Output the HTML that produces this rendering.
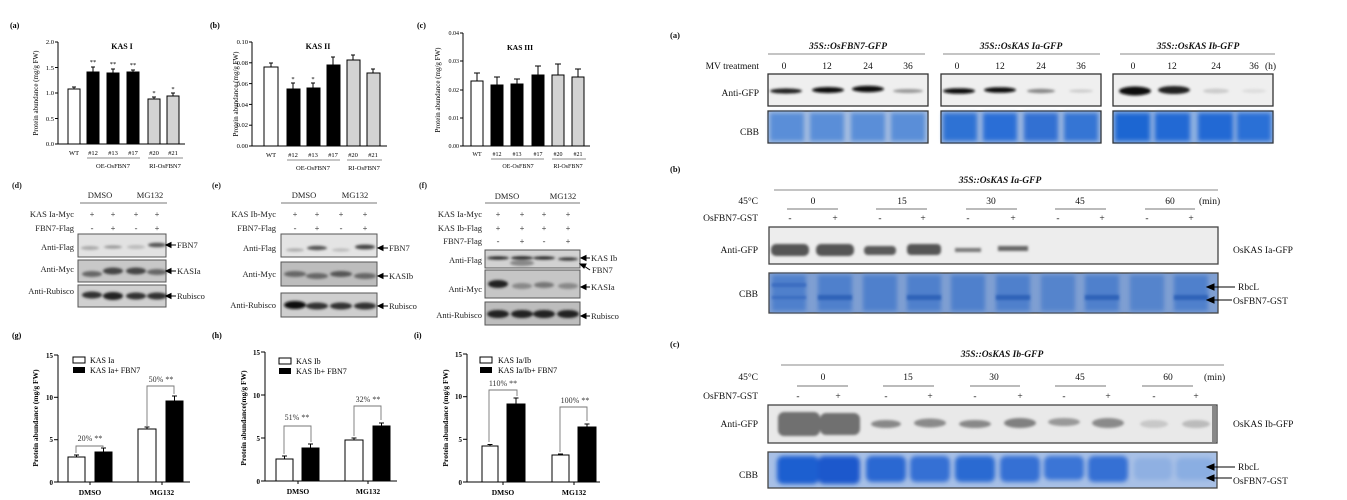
<!DOCTYPE html>
<html><head><meta charset="utf-8"><style>
html,body{margin:0;padding:0;background:#fff;width:1347px;height:500px;overflow:hidden}
svg{display:block;font-family:"Liberation Serif",serif}
</style></head><body>
<svg width="1347" height="500" viewBox="0 0 1347 500" xmlns="http://www.w3.org/2000/svg">
<defs>
<filter id="b" x="-30%" y="-100%" width="160%" height="300%"><feGaussianBlur stdDeviation="1.3"/></filter>
<filter id="b2" x="-20%" y="-20%" width="140%" height="140%"><feGaussianBlur stdDeviation="2"/></filter>
</defs>

<!-- ========== (a) KAS I ========== -->
<g font-size="6.5" fill="#000">
<text x="10" y="28" font-size="8" font-weight="bold">(a)</text>
<text x="122" y="49" font-size="8" font-weight="bold" text-anchor="middle">KAS I</text>
<text transform="translate(38,93) rotate(-90)" text-anchor="middle" font-size="7">Protein abundance (mg/g FW)</text>
<g stroke="#000" stroke-width="1"><line x1="58" y1="42" x2="58" y2="144"/><line x1="58" y1="144" x2="185" y2="144"/>
<line x1="55" y1="42" x2="58" y2="42"/><line x1="55" y1="67.5" x2="58" y2="67.5"/><line x1="55" y1="93" x2="58" y2="93"/><line x1="55" y1="118.5" x2="58" y2="118.5"/><line x1="55" y1="144" x2="58" y2="144"/></g>
<g text-anchor="end"><text x="54" y="44">2.0</text><text x="54" y="70">1.5</text><text x="54" y="95">1.0</text><text x="54" y="121">0.5</text><text x="54" y="146">0.0</text></g>
<g stroke="#000" stroke-width="1">
<rect x="68" y="89" width="12" height="55" fill="#fff"/><line x1="74" y1="89" x2="74" y2="87"/><line x1="72" y1="87" x2="76" y2="87"/>
<rect x="87" y="72" width="12" height="72" fill="#000"/><line x1="93" y1="72" x2="93" y2="67"/><line x1="91" y1="67" x2="95" y2="67"/>
<rect x="107" y="73" width="12" height="71" fill="#000"/><line x1="113" y1="73" x2="113" y2="69"/><line x1="111" y1="69" x2="115" y2="69"/>
<rect x="127" y="72" width="12" height="72" fill="#000"/><line x1="133" y1="72" x2="133" y2="70"/><line x1="131" y1="70" x2="135" y2="70"/>
<rect x="148" y="99" width="12" height="45" fill="#d3d3d3"/><line x1="154" y1="99" x2="154" y2="97"/><line x1="152" y1="97" x2="156" y2="97"/>
<rect x="167" y="96" width="12" height="48" fill="#d3d3d3"/><line x1="173" y1="96" x2="173" y2="93"/><line x1="171" y1="93" x2="175" y2="93"/>
</g>
<g text-anchor="middle"><text x="93" y="64">**</text><text x="113" y="66">**</text><text x="133" y="67">**</text><text x="154" y="95">*</text><text x="173" y="91">*</text>
<text x="74" y="155">WT</text><text x="93" y="155">#12</text><text x="113" y="155">#13</text><text x="133" y="155">#17</text><text x="154" y="155">#20</text><text x="173" y="155">#21</text>
<text x="113" y="168">OE-OsFBN7</text><text x="165" y="168">RI-OsFBN7</text></g>
<g stroke="#666" stroke-width="0.8"><line x1="87" y1="158" x2="140" y2="158"/><line x1="148" y1="158" x2="183" y2="158"/></g>
</g>

<!-- ========== (b) KAS II ========== -->
<g font-size="6.5" fill="#000">
<text x="210" y="28" font-size="8" font-weight="bold">(b)</text>
<text x="318" y="49" font-size="8" font-weight="bold" text-anchor="middle">KAS II</text>
<text transform="translate(238,94) rotate(-90)" text-anchor="middle" font-size="7">Protein abundance (mg/g FW)</text>
<g stroke="#000" stroke-width="1"><line x1="252" y1="42" x2="252" y2="146"/><line x1="252" y1="146" x2="387" y2="146"/>
<line x1="249" y1="42" x2="252" y2="42"/><line x1="249" y1="62.8" x2="252" y2="62.8"/><line x1="249" y1="83.6" x2="252" y2="83.6"/><line x1="249" y1="104.4" x2="252" y2="104.4"/><line x1="249" y1="125.2" x2="252" y2="125.2"/><line x1="249" y1="146" x2="252" y2="146"/></g>
<g text-anchor="end"><text x="248" y="44">0.10</text><text x="248" y="65">0.08</text><text x="248" y="86">0.06</text><text x="248" y="107">0.04</text><text x="248" y="127">0.02</text><text x="248" y="148">0.00</text></g>
<g stroke="#000" stroke-width="1">
<rect x="264" y="67" width="14" height="79" fill="#fff"/><line x1="271" y1="67" x2="271" y2="63"/><line x1="269" y1="63" x2="273" y2="63"/>
<rect x="287" y="89" width="13" height="57" fill="#000"/><line x1="293" y1="89" x2="293" y2="83"/><line x1="291" y1="83" x2="295" y2="83"/>
<rect x="307" y="88" width="13" height="58" fill="#000"/><line x1="313" y1="88" x2="313" y2="83"/><line x1="311" y1="83" x2="315" y2="83"/>
<rect x="327" y="65" width="13" height="81" fill="#000"/><line x1="333" y1="65" x2="333" y2="57"/><line x1="331" y1="57" x2="335" y2="57"/>
<rect x="347" y="60" width="13" height="86" fill="#d3d3d3"/><line x1="353" y1="60" x2="353" y2="55"/><line x1="351" y1="55" x2="355" y2="55"/>
<rect x="367" y="73" width="13" height="73" fill="#d3d3d3"/><line x1="373" y1="73" x2="373" y2="69"/><line x1="371" y1="69" x2="375" y2="69"/>
</g>
<g text-anchor="middle"><text x="293" y="81">*</text><text x="313" y="81">*</text>
<text x="271" y="157">WT</text><text x="293" y="157">#12</text><text x="313" y="157">#13</text><text x="333" y="157">#17</text><text x="353" y="157">#20</text><text x="373" y="157">#21</text>
<text x="313" y="170">OE-OsFBN7</text><text x="364" y="170">RI-OsFBN7</text></g>
<g stroke="#666" stroke-width="0.8"><line x1="287" y1="160" x2="340" y2="160"/><line x1="347" y1="160" x2="382" y2="160"/></g>
</g>

<!-- ========== (c) KAS III ========== -->
<g font-size="6" fill="#000">
<text x="417" y="28" font-size="8" font-weight="bold">(c)</text>
<text x="520" y="50" font-size="7.5" font-weight="bold" text-anchor="middle">KAS III</text>
<text transform="translate(440,90) rotate(-90)" text-anchor="middle" font-size="7">Protein abundance (mg/g FW)</text>
<g stroke="#000" stroke-width="1"><line x1="463" y1="33" x2="463" y2="146"/><line x1="463" y1="146" x2="590" y2="146"/>
<line x1="460" y1="33" x2="463" y2="33"/><line x1="460" y1="61" x2="463" y2="61"/><line x1="460" y1="90" x2="463" y2="90"/><line x1="460" y1="118" x2="463" y2="118"/><line x1="460" y1="146" x2="463" y2="146"/></g>
<g text-anchor="end"><text x="459" y="35">0.04</text><text x="459" y="63">0.03</text><text x="459" y="92">0.02</text><text x="459" y="120">0.01</text><text x="459" y="148">0.00</text></g>
<g stroke="#000" stroke-width="1">
<rect x="471" y="81" width="12" height="65" fill="#fff"/><line x1="477" y1="81" x2="477" y2="73"/><line x1="474" y1="73" x2="480" y2="73"/>
<rect x="491" y="85" width="12" height="61" fill="#000"/><line x1="497" y1="85" x2="497" y2="77"/><line x1="494" y1="77" x2="500" y2="77"/>
<rect x="511" y="84" width="12" height="62" fill="#000"/><line x1="517" y1="84" x2="517" y2="79"/><line x1="514" y1="79" x2="520" y2="79"/>
<rect x="532" y="75" width="12" height="71" fill="#000"/><line x1="538" y1="75" x2="538" y2="66"/><line x1="535" y1="66" x2="541" y2="66"/>
<rect x="552" y="75" width="12" height="71" fill="#d3d3d3"/><line x1="558" y1="75" x2="558" y2="64"/><line x1="555" y1="64" x2="561" y2="64"/>
<rect x="572" y="77" width="12" height="69" fill="#d3d3d3"/><line x1="578" y1="77" x2="578" y2="69"/><line x1="575" y1="69" x2="581" y2="69"/>
</g>
<g text-anchor="middle"><text x="477" y="156">WT</text><text x="497" y="156">#12</text><text x="517" y="156">#13</text><text x="538" y="156">#17</text><text x="558" y="156">#20</text><text x="578" y="156">#21</text>
<text x="518" y="168">OE-OsFBN7</text><text x="568" y="168">RI-OsFBN7</text></g>
<g stroke="#666" stroke-width="0.8"><line x1="491" y1="159" x2="544" y2="159"/><line x1="552" y1="159" x2="586" y2="159"/></g>
</g>

<!-- ========== (d) ========== -->
<g font-size="8.5" fill="#222">
<text x="12" y="188" font-size="8" font-weight="bold">(d)</text>
<text x="100" y="198" text-anchor="middle">DMSO</text><text x="150" y="198" text-anchor="middle">MG132</text>
<line x1="80" y1="203" x2="167" y2="203" stroke="#777"/>
<g text-anchor="end"><text x="74" y="217">KAS Ia-Myc</text><text x="74" y="231">FBN7-Flag</text><text x="74" y="250">Anti-Flag</text><text x="74" y="272">Anti-Myc</text><text x="74" y="294">Anti-Rubisco</text></g>
<g text-anchor="middle"><text x="92" y="217">+</text><text x="113" y="217">+</text><text x="136" y="217">+</text><text x="157" y="217">+</text>
<text x="92" y="231">-</text><text x="113" y="231">+</text><text x="136" y="231">-</text><text x="157" y="231">+</text></g>
<rect x="78" y="234" width="88" height="23" fill="#e2e2e2" stroke="#555"/>
<rect x="78" y="260" width="88" height="22" fill="#c8c8c8" stroke="#555"/>
<rect x="78" y="285" width="88" height="22" fill="#d0d0d0" stroke="#555"/>
<g filter="url(#b)"><ellipse cx="90" cy="248" rx="9" ry="2" fill="#aaa"/><ellipse cx="113" cy="247" rx="9" ry="1.6" fill="#999"/><ellipse cx="136" cy="247" rx="9" ry="2" fill="#bbb"/><ellipse cx="157" cy="245" rx="9" ry="2.3" fill="#555"/>
<ellipse cx="92" cy="274" rx="10" ry="3" fill="#666"/><ellipse cx="113" cy="271" rx="10" ry="3.5" fill="#444"/><ellipse cx="136" cy="271" rx="10" ry="3.5" fill="#444"/><ellipse cx="157" cy="272" rx="10" ry="3" fill="#666"/>
<ellipse cx="92" cy="295" rx="10" ry="3.5" fill="#333"/><ellipse cx="113" cy="296" rx="10" ry="4" fill="#222"/><ellipse cx="136" cy="296" rx="10" ry="3.5" fill="#333"/><ellipse cx="157" cy="296" rx="10" ry="3.5" fill="#333"/></g>
<g stroke="#000" fill="#000"><line x1="168" y1="245" x2="176" y2="245"/><polygon points="166,245 171,242.5 171,247.5"/>
<line x1="168" y1="271" x2="176" y2="271"/><polygon points="166,271 171,268.5 171,273.5"/>
<line x1="168" y1="296" x2="176" y2="296"/><polygon points="166,296 171,293.5 171,298.5"/></g>
<text x="177" y="248">FBN7</text><text x="177" y="274">KASIa</text><text x="177" y="299">Rubisco</text>
</g>

<!-- ========== (e) ========== -->
<g font-size="8.5" fill="#222">
<text x="212" y="188" font-size="8" font-weight="bold">(e)</text>
<text x="304" y="198" text-anchor="middle">DMSO</text><text x="355" y="198" text-anchor="middle">MG132</text>
<line x1="281" y1="203" x2="377" y2="203" stroke="#777"/>
<g text-anchor="end"><text x="276" y="217">KAS Ib-Myc</text><text x="276" y="231">FBN7-Flag</text><text x="276" y="251">Anti-Flag</text><text x="276" y="277">Anti-Myc</text><text x="276" y="308">Anti-Rubisco</text></g>
<g text-anchor="middle"><text x="295" y="217">+</text><text x="317" y="217">+</text><text x="341" y="217">+</text><text x="365" y="217">+</text>
<text x="295" y="231">-</text><text x="317" y="231">+</text><text x="341" y="231">-</text><text x="365" y="231">+</text></g>
<rect x="281" y="234" width="96" height="23" fill="#e4e4e4" stroke="#555"/>
<rect x="281" y="262" width="96" height="24" fill="#bdbdbd" stroke="#555"/>
<rect x="281" y="293" width="96" height="24" fill="#cfcfcf" stroke="#555"/>
<g filter="url(#b)"><ellipse cx="295" cy="250" rx="9" ry="1.6" fill="#aaa"/><ellipse cx="317" cy="248" rx="10" ry="2.2" fill="#555"/><ellipse cx="341" cy="250" rx="9" ry="1.6" fill="#bbb"/><ellipse cx="365" cy="247" rx="10" ry="2.4" fill="#444"/>
<ellipse cx="295" cy="274" rx="11" ry="3" fill="#666"/><ellipse cx="317" cy="276" rx="11" ry="3" fill="#666"/><ellipse cx="341" cy="274" rx="11" ry="3" fill="#555"/><ellipse cx="365" cy="276" rx="11" ry="3" fill="#666"/>
<ellipse cx="295" cy="305" rx="11" ry="4" fill="#111"/><ellipse cx="317" cy="306" rx="11" ry="3.5" fill="#333"/><ellipse cx="341" cy="306" rx="11" ry="3.5" fill="#333"/><ellipse cx="365" cy="306" rx="11" ry="3.5" fill="#333"/></g>
<g stroke="#000" fill="#000"><line x1="380" y1="248" x2="388" y2="248"/><polygon points="378,248 383,245.5 383,250.5"/>
<line x1="380" y1="276" x2="388" y2="276"/><polygon points="378,276 383,273.5 383,278.5"/>
<line x1="380" y1="306" x2="388" y2="306"/><polygon points="378,306 383,303.5 383,308.5"/></g>
<text x="389" y="251">FBN7</text><text x="389" y="279">KASIb</text><text x="389" y="309">Rubisco</text>
</g>

<!-- ========== (f) ========== -->
<g font-size="8.5" fill="#222">
<text x="419" y="188" font-size="8" font-weight="bold">(f)</text>
<text x="507" y="199" text-anchor="middle">DMSO</text><text x="563" y="199" text-anchor="middle">MG132</text>
<line x1="485" y1="203" x2="580" y2="203" stroke="#777"/>
<g text-anchor="end"><text x="482" y="217">KAS Ia-Myc</text><text x="482" y="231">KAS Ib-Flag</text><text x="482" y="244">FBN7-Flag</text><text x="482" y="263">Anti-Flag</text><text x="482" y="292">Anti-Myc</text><text x="482" y="318">Anti-Rubisco</text></g>
<g text-anchor="middle"><text x="498" y="217">+</text><text x="522" y="217">+</text><text x="544" y="217">+</text><text x="568" y="217">+</text>
<text x="498" y="231">+</text><text x="522" y="231">+</text><text x="544" y="231">+</text><text x="568" y="231">+</text>
<text x="498" y="244">-</text><text x="522" y="244">+</text><text x="544" y="244">-</text><text x="568" y="244">+</text></g>
<rect x="485" y="250" width="95" height="18" fill="#d2d2d2" stroke="#555"/>
<rect x="485" y="270" width="95" height="28" fill="#c6c6c6" stroke="#555"/>
<rect x="485" y="302" width="95" height="23" fill="#bdbdbd" stroke="#555"/>
<g filter="url(#b)"><ellipse cx="498" cy="258" rx="11" ry="1.6" fill="#222"/><ellipse cx="522" cy="258" rx="11" ry="1.8" fill="#222"/><ellipse cx="544" cy="258" rx="11" ry="1.6" fill="#222"/><ellipse cx="568" cy="259" rx="10" ry="1.6" fill="#333"/>
<ellipse cx="522" cy="263" rx="12" ry="3" fill="#888"/>
<ellipse cx="498" cy="284" rx="10" ry="4" fill="#222"/><ellipse cx="522" cy="286" rx="10" ry="3" fill="#888"/><ellipse cx="544" cy="285" rx="10" ry="3" fill="#777"/><ellipse cx="568" cy="286" rx="10" ry="3" fill="#888"/>
<ellipse cx="498" cy="314" rx="11" ry="4" fill="#222"/><ellipse cx="522" cy="314" rx="11" ry="4" fill="#222"/><ellipse cx="544" cy="314" rx="11" ry="4" fill="#222"/><ellipse cx="568" cy="314" rx="11" ry="4" fill="#222"/></g>
<g stroke="#000" fill="#000"><line x1="583" y1="258" x2="590" y2="258"/><polygon points="581,258 586,255.5 586,260.5"/>
<line x1="584" y1="266" x2="590" y2="270"/><polygon points="580,264 586,264 584,268"/>
<line x1="583" y1="287" x2="590" y2="287"/><polygon points="581,287 586,284.5 586,289.5"/>
<line x1="583" y1="316" x2="590" y2="316"/><polygon points="581,316 586,313.5 586,318.5"/></g>
<text x="591" y="261">KAS Ib</text><text x="592" y="273">FBN7</text><text x="591" y="290">KASIa</text><text x="591" y="319">Rubisco</text>
</g>

<!-- ========== (g) ========== -->
<g font-size="7" fill="#000">
<text x="12" y="338" font-size="8" font-weight="bold">(g)</text>
<text transform="translate(38,418) rotate(-90)" text-anchor="middle" font-size="7.5" font-weight="bold">Protein abundance (mg/g FW)</text>
<g stroke="#000"><line x1="58" y1="355" x2="58" y2="482"/><line x1="58" y1="482" x2="190" y2="482"/>
<line x1="54" y1="355" x2="58" y2="355"/><line x1="54" y1="397.3" x2="58" y2="397.3"/><line x1="54" y1="439.7" x2="58" y2="439.7"/><line x1="54" y1="482" x2="58" y2="482"/>
<line x1="90" y1="482" x2="90" y2="485"/><line x1="162" y1="482" x2="162" y2="485"/></g>
<g text-anchor="end" font-weight="bold"><text x="53" y="358">15</text><text x="53" y="400">10</text><text x="53" y="442">5</text><text x="53" y="485">0</text></g>
<rect x="73" y="357" width="12" height="6" fill="#fff" stroke="#000"/><rect x="73" y="367" width="12" height="6" fill="#000"/>
<text x="90" y="363" font-size="8">KAS Ia</text><text x="90" y="373" font-size="8">KAS Ia+ FBN7</text>
<g stroke="#000">
<rect x="68" y="457" width="17" height="25" fill="#fff"/><line x1="76.5" y1="457" x2="76.5" y2="455"/><line x1="74" y1="455" x2="79" y2="455"/>
<rect x="95" y="452" width="17" height="30" fill="#000"/><line x1="103.5" y1="452" x2="103.5" y2="448"/><line x1="101" y1="448" x2="106" y2="448"/>
<rect x="138" y="429" width="18" height="53" fill="#fff"/><line x1="147" y1="429" x2="147" y2="427"/><line x1="144.5" y1="427" x2="149.5" y2="427"/>
<rect x="166" y="401" width="17" height="81" fill="#000"/><line x1="174.5" y1="401" x2="174.5" y2="396"/><line x1="172" y1="396" x2="177" y2="396"/>
</g>
<g fill="none" stroke="#777" stroke-width="0.9"><polyline points="76,453 76,446 103,446 103,447"/><polyline points="147,426 147,386 174,386 174,394"/></g>
<g text-anchor="middle" font-size="8" fill="#333"><text x="90" y="441">20% **</text><text x="161" y="382">50% **</text></g>
<g text-anchor="middle" font-weight="bold" font-size="7.5"><text x="90" y="495">DMSO</text><text x="162" y="495">MG132</text></g>
</g>

<!-- ========== (h) ========== -->
<g font-size="7" fill="#000">
<text x="212" y="338" font-size="8" font-weight="bold">(h)</text>
<text transform="translate(246,418) rotate(-90)" text-anchor="middle" font-size="7.5" font-weight="bold">Protein abundance(mg/g FW)</text>
<g stroke="#000"><line x1="265" y1="352" x2="265" y2="481"/><line x1="265" y1="481" x2="397" y2="481"/>
<line x1="261" y1="352" x2="265" y2="352"/><line x1="261" y1="395" x2="265" y2="395"/><line x1="261" y1="438" x2="265" y2="438"/><line x1="261" y1="481" x2="265" y2="481"/>
<line x1="298" y1="481" x2="298" y2="484"/><line x1="368" y1="481" x2="368" y2="484"/></g>
<g text-anchor="end" font-weight="bold"><text x="260" y="355">15</text><text x="260" y="398">10</text><text x="260" y="441">5</text><text x="260" y="484">0</text></g>
<rect x="279" y="358" width="12" height="6" fill="#fff" stroke="#000"/><rect x="279" y="368" width="12" height="6" fill="#000"/>
<text x="296" y="364" font-size="8">KAS Ib</text><text x="296" y="374" font-size="8">KAS Ib+ FBN7</text>
<g stroke="#000">
<rect x="276" y="459" width="17" height="22" fill="#fff"/><line x1="284.5" y1="459" x2="284.5" y2="456"/><line x1="282" y1="456" x2="287" y2="456"/>
<rect x="302" y="448" width="17" height="33" fill="#000"/><line x1="310.5" y1="448" x2="310.5" y2="444"/><line x1="308" y1="444" x2="313" y2="444"/>
<rect x="345" y="440" width="18" height="41" fill="#fff"/><line x1="354" y1="440" x2="354" y2="438"/><line x1="351.5" y1="438" x2="356.5" y2="438"/>
<rect x="373" y="426" width="17" height="55" fill="#000"/><line x1="381.5" y1="426" x2="381.5" y2="423"/><line x1="379" y1="423" x2="384" y2="423"/>
</g>
<g fill="none" stroke="#777" stroke-width="0.9"><polyline points="284,454 284,426 311,426 311,442"/><polyline points="354,436 354,406 381,406 381,420"/></g>
<g text-anchor="middle" font-size="8" fill="#333"><text x="297" y="420">51% **</text><text x="368" y="402">32% **</text></g>
<g text-anchor="middle" font-weight="bold" font-size="7.5"><text x="298" y="494">DMSO</text><text x="368" y="494">MG132</text></g>
</g>

<!-- ========== (i) ========== -->
<g font-size="7" fill="#000">
<text x="414" y="338" font-size="8" font-weight="bold">(i)</text>
<text transform="translate(448,418) rotate(-90)" text-anchor="middle" font-size="7.5" font-weight="bold">Protein abundance (mg/g FW)</text>
<g stroke="#000"><line x1="467" y1="354" x2="467" y2="482"/><line x1="467" y1="482" x2="600" y2="482"/>
<line x1="463" y1="354" x2="467" y2="354"/><line x1="463" y1="396.7" x2="467" y2="396.7"/><line x1="463" y1="439.3" x2="467" y2="439.3"/><line x1="463" y1="482" x2="467" y2="482"/>
<line x1="503" y1="482" x2="503" y2="485"/><line x1="574" y1="482" x2="574" y2="485"/></g>
<g text-anchor="end" font-weight="bold"><text x="462" y="357">15</text><text x="462" y="399">10</text><text x="462" y="442">5</text><text x="462" y="485">0</text></g>
<rect x="480" y="357" width="12" height="6" fill="#fff" stroke="#000"/><rect x="480" y="367" width="12" height="6" fill="#000"/>
<text x="498" y="363" font-size="8">KAS Ia/Ib</text><text x="498" y="373" font-size="8">KAS Ia/Ib+ FBN7</text>
<g stroke="#000">
<rect x="482" y="446" width="16" height="36" fill="#fff"/><line x1="490" y1="446" x2="490" y2="444.5"/><line x1="487.5" y1="444.5" x2="492.5" y2="444.5"/>
<rect x="507" y="404" width="18" height="78" fill="#000"/><line x1="516" y1="404" x2="516" y2="398"/><line x1="513.5" y1="398" x2="518.5" y2="398"/>
<rect x="552" y="455" width="17" height="27" fill="#fff"/><line x1="560.5" y1="455" x2="560.5" y2="454"/><line x1="558" y1="454" x2="563" y2="454"/>
<rect x="578" y="427" width="18" height="55" fill="#000"/><line x1="587" y1="427" x2="587" y2="424"/><line x1="584.5" y1="424" x2="589.5" y2="424"/>
</g>
<g fill="none" stroke="#777" stroke-width="0.9"><polyline points="489,442 489,390 517,390 517,396"/><polyline points="560,452 560,407 587,407 587,421"/></g>
<g text-anchor="middle" font-size="8" fill="#333"><text x="503" y="386">110% **</text><text x="575" y="403">100% **</text></g>
<g text-anchor="middle" font-weight="bold" font-size="7.5"><text x="503" y="495">DMSO</text><text x="574" y="495">MG132</text></g>
</g>

<!-- ========== Right (a) ========== -->
<g font-size="9.5" fill="#111">
<text x="670" y="38" font-size="8.5" font-weight="bold">(a)</text>
<g font-weight="bold" font-style="italic" text-anchor="middle" font-size="9.5"><text x="848" y="49">35S::OsFBN7-GFP</text><text x="1021" y="49">35S::OsKAS Ia-GFP</text><text x="1198" y="49">35S::OsKAS Ib-GFP</text></g>
<g stroke="#888"><line x1="768" y1="54" x2="925" y2="54"/><line x1="943" y1="54" x2="1100" y2="54"/><line x1="1120" y1="54" x2="1275" y2="54"/></g>
<g text-anchor="end"><text x="759" y="69">MV treatment</text><text x="759" y="96">Anti-GFP</text><text x="759" y="135">CBB</text></g>
<g text-anchor="middle"><text x="784" y="69">0</text><text x="827" y="69">12</text><text x="868" y="69">24</text><text x="908" y="69">36</text>
<text x="957" y="69">0</text><text x="1000" y="69">12</text><text x="1041" y="69">24</text><text x="1081" y="69">36</text>
<text x="1133" y="69">0</text><text x="1172" y="69">12</text><text x="1216" y="69">24</text><text x="1254" y="69">36</text></g>
<text x="1265" y="69">(h)</text>
<g stroke="#333" stroke-width="1.3" fill="#efefef"><rect x="768" y="74" width="160" height="32"/><rect x="941" y="74" width="160" height="32"/><rect x="1113" y="74" width="160" height="32"/></g>
<g filter="url(#b)">
<ellipse cx="786" cy="91" rx="16" ry="2.6" fill="#222"/><ellipse cx="828" cy="90" rx="16" ry="3" fill="#111"/><ellipse cx="868" cy="89" rx="16" ry="3.2" fill="#111"/><ellipse cx="908" cy="91" rx="15" ry="2" fill="#999"/>
<ellipse cx="959" cy="91" rx="16" ry="2.8" fill="#111"/><ellipse cx="1000" cy="90" rx="16" ry="2.8" fill="#111"/><ellipse cx="1041" cy="91" rx="14" ry="2.2" fill="#888"/><ellipse cx="1081" cy="91" rx="12" ry="1.6" fill="#ccc"/>
<ellipse cx="1135" cy="91" rx="16" ry="4.5" fill="#111"/><ellipse cx="1174" cy="90" rx="16" ry="4" fill="#222"/><ellipse cx="1216" cy="91" rx="13" ry="2.5" fill="#ccc"/><ellipse cx="1254" cy="91" rx="12" ry="2" fill="#ddd"/></g>
<g stroke="#333" stroke-width="1.3"><rect x="768" y="111" width="160" height="32" fill="#a5bde0"/><rect x="941" y="111" width="160" height="32" fill="#9bb6df"/><rect x="1113" y="111" width="160" height="32" fill="#8fb0e0"/></g>
<g filter="url(#b2)">
<rect x="770" y="113" width="34" height="28" fill="#5a8ed8"/><rect x="810" y="113" width="34" height="28" fill="#5a8ed8"/><rect x="851" y="113" width="34" height="28" fill="#5a8ed8"/><rect x="891" y="113" width="34" height="28" fill="#5a8ed8"/>
<rect x="943" y="113" width="34" height="28" fill="#2f72d4"/><rect x="983" y="113" width="34" height="28" fill="#2a6ed6"/><rect x="1024" y="113" width="34" height="28" fill="#306fd2"/><rect x="1064" y="113" width="34" height="28" fill="#3474d4"/>
<rect x="1115" y="113" width="35" height="28" fill="#1f66d2"/><rect x="1155" y="113" width="35" height="28" fill="#2169d4"/><rect x="1198" y="113" width="35" height="28" fill="#2269d4"/><rect x="1237" y="113" width="34" height="28" fill="#2a6fd6"/></g>
</g>

<!-- ========== Right (b) ========== -->
<g font-size="9.5" fill="#111">
<text x="670" y="172" font-size="8.5" font-weight="bold">(b)</text>
<text x="1000" y="183" text-anchor="middle" font-weight="bold" font-style="italic">35S::OsKAS Ia-GFP</text>
<line x1="774" y1="190" x2="1218" y2="190" stroke="#888"/>
<g text-anchor="end"><text x="758" y="204">45°C</text><text x="758" y="221">OsFBN7-GST</text><text x="758" y="253">Anti-GFP</text><text x="758" y="297">CBB</text></g>
<g text-anchor="middle"><text x="813" y="204">0</text><text x="902" y="204">15</text><text x="991" y="204">30</text><text x="1080" y="204">45</text><text x="1170" y="204">60</text></g>
<text x="1199" y="204">(min)</text>
<g stroke="#777"><line x1="787" y1="209" x2="838" y2="209"/><line x1="876" y1="209" x2="927" y2="209"/><line x1="966" y1="209" x2="1017" y2="209"/><line x1="1055" y1="209" x2="1106" y2="209"/><line x1="1145" y1="209" x2="1195" y2="209"/></g>
<g text-anchor="middle"><text x="790" y="221">-</text><text x="835" y="221">+</text><text x="880" y="221">-</text><text x="923" y="221">+</text><text x="968" y="221">-</text><text x="1013" y="221">+</text><text x="1058" y="221">-</text><text x="1102" y="221">+</text><text x="1147" y="221">-</text><text x="1191" y="221">+</text></g>
<rect x="769" y="227" width="449" height="37" fill="#ededed" stroke="#444" stroke-width="1.3"/>
<g filter="url(#b)"><rect x="771" y="244" width="38" height="12" rx="5" fill="#555"/><rect x="816" y="244" width="38" height="12" rx="5" fill="#555"/><rect x="864" y="246" width="32" height="9" rx="4" fill="#5a5a5a"/><rect x="907" y="244" width="34" height="11" rx="4" fill="#555"/><rect x="955" y="248" width="26" height="4" fill="#777"/><rect x="998" y="246" width="30" height="5" fill="#666"/></g>
<rect x="769" y="273" width="449" height="40" fill="#7f9fd2" stroke="#444" stroke-width="1.3"/>
<g filter="url(#b2)"><rect x="772" y="275" width="34" height="36" fill="#4f80cc"/><rect x="818" y="275" width="34" height="36" fill="#4f80cc"/><rect x="863" y="275" width="34" height="36" fill="#4f80cc"/><rect x="907" y="275" width="34" height="36" fill="#4f80cc"/><rect x="951" y="275" width="34" height="36" fill="#4f80cc"/><rect x="996" y="275" width="34" height="36" fill="#4f80cc"/><rect x="1041" y="275" width="34" height="36" fill="#5584cc"/><rect x="1085" y="275" width="34" height="36" fill="#4f80cc"/><rect x="1130" y="275" width="34" height="36" fill="#5584cc"/><rect x="1174" y="275" width="34" height="36" fill="#4f80cc"/></g>
<g filter="url(#b)" fill="#2f62b8"><rect x="818" y="295" width="34" height="5"/><rect x="907" y="295" width="34" height="5"/><rect x="996" y="295" width="34" height="5"/><rect x="1085" y="295" width="34" height="5"/><rect x="1174" y="295" width="34" height="5"/><rect x="772" y="283" width="34" height="4" fill="#3a6cc0"/><rect x="772" y="296" width="34" height="3" fill="#3a6cc0"/></g>
<text x="1233" y="253">OsKAS Ia-GFP</text>
<g stroke="#000" fill="#000"><line x1="1212" y1="287" x2="1235" y2="287"/><polygon points="1207,287 1214,284 1214,290"/><line x1="1212" y1="300" x2="1232" y2="300"/><polygon points="1207,300 1214,297 1214,303"/></g>
<text x="1238" y="290">RbcL</text><text x="1233" y="304">OsFBN7-GST</text>
</g>

<!-- ========== Right (c) ========== -->
<g font-size="9.5" fill="#111">
<text x="670" y="347" font-size="8.5" font-weight="bold">(c)</text>
<text x="1002" y="357" text-anchor="middle" font-weight="bold" font-style="italic">35S::OsKAS Ib-GFP</text>
<line x1="781" y1="365" x2="1224" y2="365" stroke="#888"/>
<g text-anchor="end"><text x="758" y="380">45°C</text><text x="758" y="399">OsFBN7-GST</text><text x="758" y="427">Anti-GFP</text><text x="758" y="478">CBB</text></g>
<g text-anchor="middle"><text x="823" y="380">0</text><text x="908" y="380">15</text><text x="994" y="380">30</text><text x="1080" y="380">45</text><text x="1168" y="380">60</text></g>
<text x="1204" y="380">(min)</text>
<g stroke="#777"><line x1="797" y1="386" x2="848" y2="386"/><line x1="883" y1="386" x2="934" y2="386"/><line x1="970" y1="386" x2="1020" y2="386"/><line x1="1055" y1="386" x2="1106" y2="386"/><line x1="1142" y1="386" x2="1193" y2="386"/></g>
<g text-anchor="middle"><text x="798" y="399">-</text><text x="838" y="399">+</text><text x="886" y="399">-</text><text x="930" y="399">+</text><text x="975" y="399">-</text><text x="1020" y="399">+</text><text x="1064" y="399">-</text><text x="1108" y="399">+</text><text x="1154" y="399">-</text><text x="1196" y="399">+</text></g>
<rect x="768" y="405" width="449" height="38" fill="#e9e9e9" stroke="#444" stroke-width="1.3"/>
<g filter="url(#b)"><rect x="778" y="412" width="42" height="24" rx="6" fill="#707070"/><rect x="820" y="413" width="40" height="22" rx="6" fill="#707070"/><ellipse cx="886" cy="424" rx="15" ry="4" fill="#888"/><ellipse cx="930" cy="423" rx="16" ry="4.5" fill="#8a8a8a"/><ellipse cx="975" cy="424" rx="16" ry="4" fill="#888"/><ellipse cx="1020" cy="423" rx="16" ry="5" fill="#808080"/><ellipse cx="1064" cy="422" rx="16" ry="4" fill="#999"/><ellipse cx="1108" cy="423" rx="16" ry="5" fill="#8a8a8a"/><ellipse cx="1154" cy="424" rx="14" ry="4" fill="#c8c8c8"/><ellipse cx="1196" cy="424" rx="14" ry="4" fill="#bbb"/></g>
<rect x="1212" y="406" width="4" height="36" fill="#888"/>
<rect x="768" y="452" width="449" height="36" fill="#a8c0e6" stroke="#444" stroke-width="1.3"/>
<g filter="url(#b2)"><rect x="777" y="456" width="42" height="28" rx="6" fill="#1f5fd0"/><rect x="818" y="456" width="42" height="28" rx="6" fill="#1a58cc"/><rect x="866" y="456" width="40" height="26" rx="6" fill="#2a68d2"/><rect x="910" y="456" width="40" height="26" rx="6" fill="#3470d4"/><rect x="955" y="456" width="40" height="26" rx="6" fill="#2b6ad2"/><rect x="1000" y="456" width="40" height="26" rx="6" fill="#3470d4"/><rect x="1044" y="456" width="40" height="24" rx="6" fill="#3a74d6"/><rect x="1088" y="456" width="40" height="26" rx="6" fill="#3470d4"/><rect x="1134" y="458" width="38" height="22" rx="6" fill="#8fb0e2"/><rect x="1176" y="458" width="38" height="22" rx="6" fill="#8aaee2"/></g>
<text x="1233" y="427">OsKAS Ib-GFP</text>
<g stroke="#000" fill="#000"><line x1="1212" y1="467" x2="1235" y2="467"/><polygon points="1207,467 1214,464 1214,470"/><line x1="1212" y1="478" x2="1232" y2="478"/><polygon points="1207,478 1214,475 1214,481"/></g>
<text x="1238" y="470">RbcL</text><text x="1233" y="484">OsFBN7-GST</text>
</g>
</svg>
</body></html>
